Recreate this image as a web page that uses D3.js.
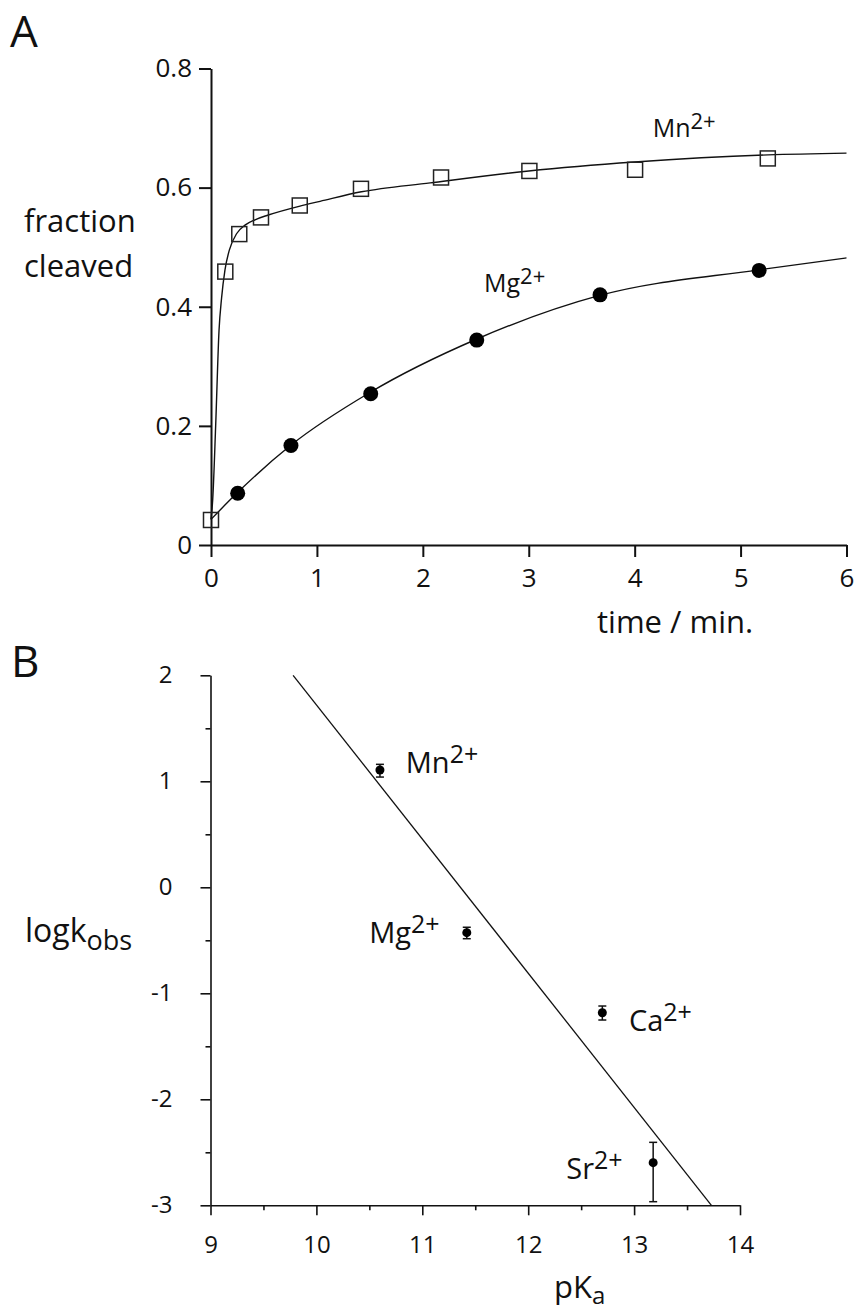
<!DOCTYPE html>
<html>
<head>
<meta charset="utf-8">
<script src="https://cdn.jsdelivr.net/npm/d3@7"></script>
<style>
body { margin: 0; background: #fff; }
text { font-family: "Open Sans", sans-serif; fill: #111; }
</style>
</head>
<body>
<div id="canvas"></div>
<script>
// Panel A: fraction cleaved vs time
const mnTime = [0, 0.135, 0.267, 0.472, 0.838, 1.416, 2.172, 3.006, 4.004, 5.257];
const mnFrac = [0.042, 0.459, 0.522, 0.550, 0.570, 0.598, 0.617, 0.628, 0.630, 0.649];
const mgTime = [0.252, 0.755, 1.508, 2.509, 3.673, 5.175];
const mgFrac = [0.087, 0.167, 0.254, 0.344, 0.420, 0.461];

// fit curves
const mnFitTime = [0, 0.016, 0.044, 0.076, 0.10, 0.132, 0.173, 0.243, 0.321, 0.416, 0.541, 0.84, 1.03, 1.42, 2.07, 3, 4, 5.26, 6];
const mnFitFrac = [0.043, 0.076, 0.2, 0.361, 0.415, 0.462, 0.495, 0.523, 0.537, 0.546, 0.554, 0.569, 0.577, 0.593, 0.608, 0.628, 0.643, 0.655, 0.658];
const mgFitTime = [0, 0.25, 0.75, 1.5, 2.5, 3.67, 5.17, 6];
const mgFitFrac = [0.043, 0.088, 0.167, 0.256, 0.345, 0.419, 0.462, 0.482];

const timeTicks = [0, 1, 2, 3, 4, 5, 6];
const fracTicks = [0, 0.2, 0.4, 0.6, 0.8];

// Panel B: logk vs pKa
const metals = ["Mn", "Mg", "Ca", "Sr"];
const pKa = [10.60, 11.42, 12.70, 13.18];
const logK = [1.107, -0.428, -1.183, -2.598];
const logKHigh = [1.16, -0.377, -1.120, -2.406];
const logKLow = [1.04, -0.485, -1.252, -2.966];
const lineP = [9.78, 13.73];
const lineK = [2, -3];

const pKaTicks = [9, 10, 11, 12, 13, 14];
const pKaMinor = [9.5, 10.5, 11.5, 12.5, 13.5];
const logKTicks = [-3, -2, -1, 0, 1, 2];
const logKMinor = [-2.5, -1.5, -0.5, 0.5, 1.5];

const svg = d3.select('#canvas').append('svg')
  .attr('width', 856)
  .attr('height', 1315);

// ---------- panel A ----------
const xA = d3.scaleLinear().domain([0, 6]).range([211, 846.5]);
const yA = d3.scaleLinear().domain([0, 0.8]).range([545, 68.5]);

function styleAxis(g, size, width) {
  g.attr('font-family', '"Open Sans", sans-serif').attr('font-size', size);
  g.selectAll('path, line').attr('stroke', '#111').attr('stroke-width', width);
  g.selectAll('text').attr('fill', '#111');
}

svg.append('g')
  .attr('transform', 'translate(211,0)')
  .call(d3.axisLeft(yA).tickValues(fracTicks)
    .tickFormat(d => d === 0 ? '0' : d3.format('.1f')(d))
    .tickSize(12).tickPadding(7).tickSizeOuter(0))
  .call(g => styleAxis(g, 26, 2));

svg.append('g')
  .attr('transform', 'translate(0,545)')
  .call(d3.axisBottom(xA).tickValues(timeTicks)
    .tickFormat(d => String(d))
    .tickSize(12).tickPadding(12).tickSizeOuter(0))
  .call(g => styleAxis(g, 26, 2));

const lineA = d3.line()
  .x(d => xA(d[0]))
  .y(d => yA(d[1]))
  .curve(d3.curveMonotoneX);

svg.append('path')
  .attr('d', lineA(d3.zip(mnFitTime, mnFitFrac)))
  .attr('fill', 'none').attr('stroke', '#111').attr('stroke-width', 1.4);
svg.append('path')
  .attr('d', lineA(d3.zip(mgFitTime, mgFitFrac)))
  .attr('fill', 'none').attr('stroke', '#111').attr('stroke-width', 1.4);

svg.selectAll('.mn')
  .data(d3.zip(mnTime, mnFrac))
  .enter()
  .append('rect')
  .attr('class', 'mn')
  .attr('x', d => xA(d[0]) - 7.5)
  .attr('y', d => yA(d[1]) - 7.5)
  .attr('width', 15)
  .attr('height', 15)
  .attr('fill', 'none')
  .attr('stroke', '#222')
  .attr('stroke-width', 1.5);

svg.selectAll('.mg')
  .data(d3.zip(mgTime, mgFrac))
  .enter()
  .append('circle')
  .attr('class', 'mg')
  .attr('cx', d => xA(d[0]))
  .attr('cy', d => yA(d[1]))
  .attr('r', 7.5)
  .attr('fill', '#000');

// labels A
function ion(x, y, name, charge, size, supSize, rise) {
  const t = svg.append('text').attr('x', x).attr('y', y).attr('font-size', size);
  t.append('tspan').text(name);
  t.append('tspan').attr('font-size', supSize).attr('dy', -rise).text(charge);
  return t;
}

svg.append('text').attr('x', 10).attr('y', 47).attr('font-size', 44).text('A');
ion(xA(4.17), yA(0.685), 'Mn', '2+', 25, 22, 8);
ion(xA(2.578), yA(0.424), 'Mg', '2+', 25, 22, 8);

svg.append('text').attr('x', 24).attr('y', 232).attr('font-size', 31).text('fraction');
svg.append('text').attr('x', 24).attr('y', 277).attr('font-size', 31).text('cleaved');
svg.append('text').attr('x', 597).attr('y', 633).attr('font-size', 31).text('time / min.');

// ---------- panel B ----------
const xB = d3.scaleLinear().domain([9, 14]).range([210.5, 740]);
const yB = d3.scaleLinear().domain([-3, 2]).range([1205.3, 675.3]);

svg.append('g')
  .attr('transform', 'translate(210.5,0)')
  .call(d3.axisLeft(yB).tickValues(logKTicks)
    .tickFormat(d => String(d))
    .tickSize(10).tickPadding(28).tickSizeOuter(0))
  .call(g => styleAxis(g, 24, 1.6));
svg.append('g')
  .attr('transform', 'translate(210.5,0)')
  .call(d3.axisLeft(yB).tickValues(logKMinor).tickFormat('').tickSize(5).tickSizeOuter(0))
  .call(g => styleAxis(g, 24, 1.6))
  .call(g => g.select('.domain').remove());

svg.append('g')
  .attr('transform', 'translate(0,1205.3)')
  .call(d3.axisBottom(xB).tickValues(pKaTicks)
    .tickFormat(d => String(d))
    .tickSize(10).tickPadding(21).tickSizeOuter(0))
  .call(g => styleAxis(g, 24, 1.6));
svg.append('g')
  .attr('transform', 'translate(0,1205.3)')
  .call(d3.axisBottom(xB).tickValues(pKaMinor).tickFormat('').tickSize(5).tickSizeOuter(0))
  .call(g => styleAxis(g, 24, 1.6))
  .call(g => g.select('.domain').remove());

// fit line
svg.append('line')
  .attr('x1', xB(lineP[0])).attr('y1', yB(lineK[0]))
  .attr('x2', xB(lineP[1])).attr('y2', yB(lineK[1]))
  .attr('stroke', '#111').attr('stroke-width', 1.3);

const pts = metals.map((m, i) => ({ m: m, p: pKa[i], k: logK[i], hi: logKHigh[i], lo: logKLow[i] }));

// error bars
const eb = svg.selectAll('.err').data(pts).enter().append('g').attr('class', 'err')
  .attr('stroke', '#111').attr('stroke-width', 1.5);
eb.append('line')
  .attr('x1', d => xB(d.p)).attr('x2', d => xB(d.p))
  .attr('y1', d => yB(d.hi)).attr('y2', d => yB(d.lo));
eb.append('line')
  .attr('x1', d => xB(d.p) - 4).attr('x2', d => xB(d.p) + 4)
  .attr('y1', d => yB(d.hi)).attr('y2', d => yB(d.hi));
eb.append('line')
  .attr('x1', d => xB(d.p) - 4).attr('x2', d => xB(d.p) + 4)
  .attr('y1', d => yB(d.lo)).attr('y2', d => yB(d.lo));

svg.selectAll('.dot').data(pts).enter().append('circle')
  .attr('class', 'dot')
  .attr('cx', d => xB(d.p))
  .attr('cy', d => yB(d.k))
  .attr('r', 4.5)
  .attr('fill', '#000');

// labels B
svg.append('text').attr('x', 11).attr('y', 677).attr('font-size', 44).text('B');
ion(xB(10.844), yB(1.075), 'Mn', '2+', 29, 25, 10);
ion(xB(10.498), yB(-0.528), 'Mg', '2+', 29, 25, 10);
ion(xB(12.951), yB(-1.353), 'Ca', '2+', 29, 25, 10);
ion(xB(12.36), yB(-2.755), 'Sr', '2+', 29, 25, 10);

const lk = svg.append('text').attr('x', 25).attr('y', 941.7).attr('font-size', 32);
lk.append('tspan').text('logk');
lk.append('tspan').attr('font-size', 27).attr('dy', 8).text('obs');

const pk = svg.append('text').attr('x', 554).attr('y', 1298).attr('font-size', 31);
pk.append('tspan').text('pK');
pk.append('tspan').attr('font-size', 24).attr('dy', 6).text('a');
</script>
</body>
</html>
